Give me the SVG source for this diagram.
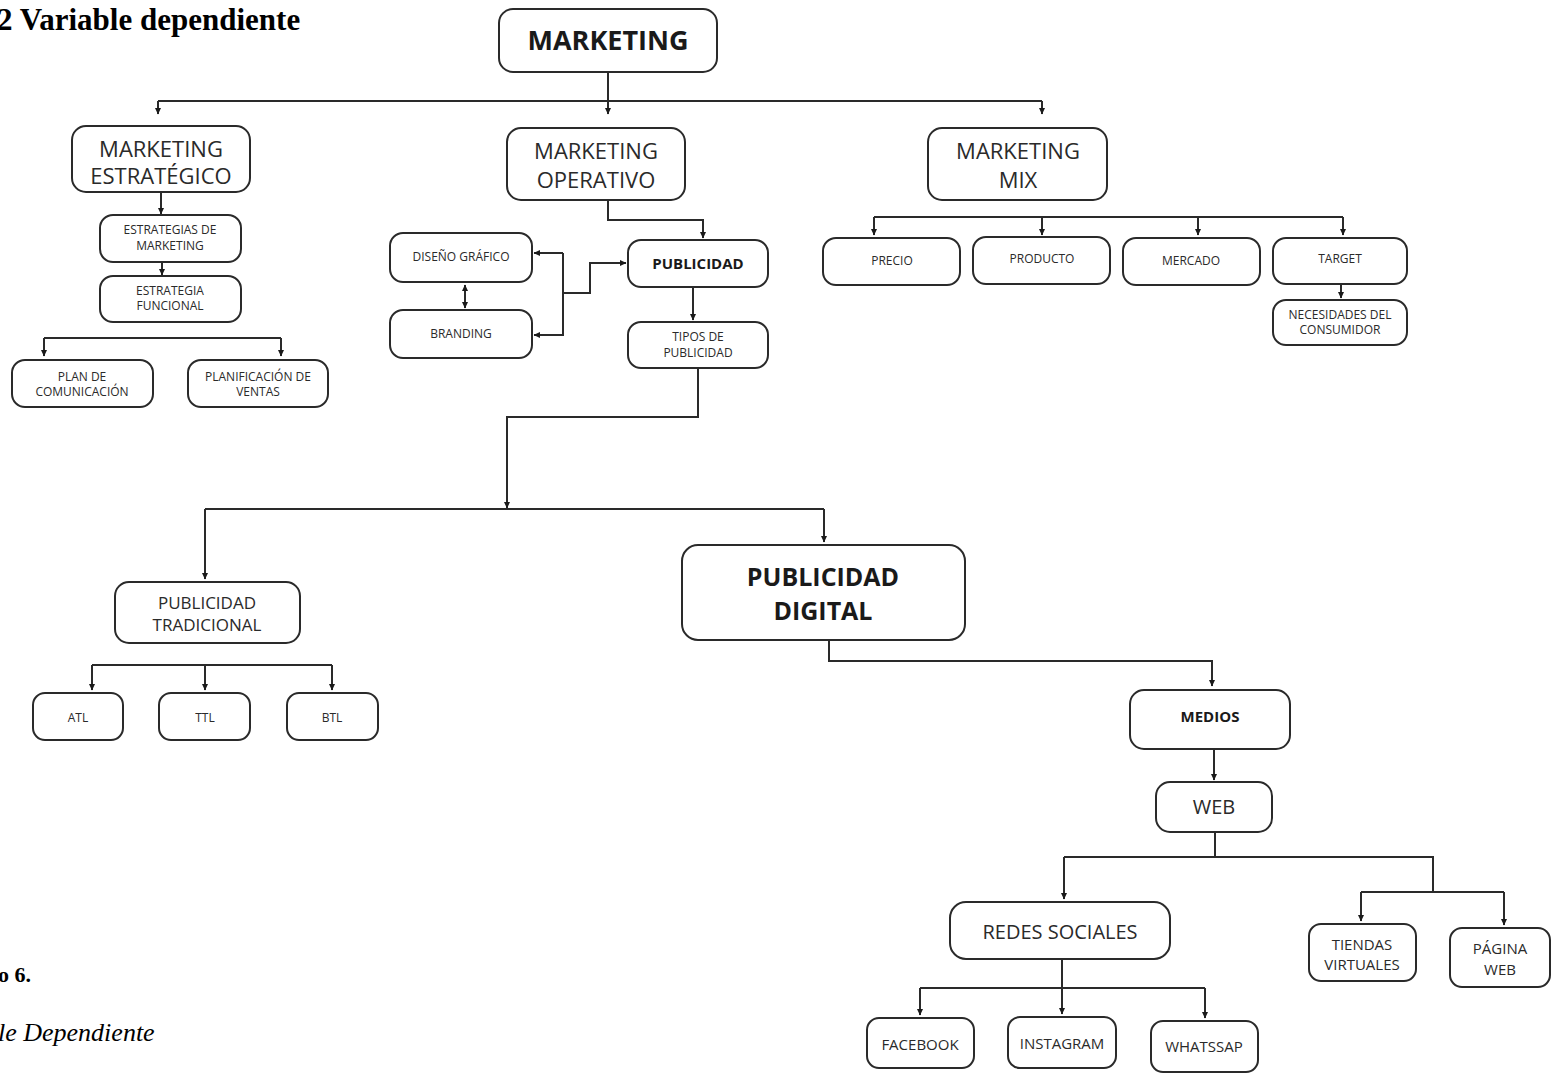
<svg xmlns="http://www.w3.org/2000/svg" width="1554" height="1076" viewBox="0 0 1554 1076">
<defs>
<style>
.box{fill:#fff;stroke:#2a2a2a;stroke-width:2}
.t{font-family:"Open Sans","Noto Sans",sans-serif;fill:#2a2a2a;text-anchor:middle}
.b{font-weight:bold;fill:#1a1a1a}
.s12{font-size:12px}
.s13{font-size:13px}
.s15{font-size:15px}
.s17{font-size:17px}
.s20{font-size:20px}
.s22{font-size:22px}
.c{fill:none;stroke:#2a2a2a;stroke-width:2}
.a{marker-end:url(#ah)}
.serif{font-family:"Liberation Serif","Times New Roman",serif;fill:#000}
</style>
<marker id="ah" viewBox="0 0 8 8" refX="7" refY="4" markerWidth="7" markerHeight="7" markerUnits="userSpaceOnUse" orient="auto-start-reverse">
<path d="M0,0.5 L7.5,4 L0,7.5 z" fill="#1a1a1a"/>
</marker>
</defs>
<rect width="1554" height="1076" fill="#fff"/>

<text class="serif" x="-3" y="30" font-size="31" font-weight="bold">2 Variable dependiente</text>
<text class="serif" x="-2" y="982" font-size="22" font-weight="bold">o 6.</text>
<text class="serif" x="-2" y="1041" font-size="26" font-style="italic">le Dependiente</text>

<g id="connectors">
<path class="c a" d="M608,72 V114"/>
<path class="c" d="M158,101 H1042"/>
<path class="c a" d="M158,101 V114"/>
<path class="c a" d="M1042,101 V114"/>
<path class="c a" d="M161,192 V214"/>
<path class="c a" d="M162,262 V275"/>
<path class="c" d="M44,338 H281"/>
<path class="c a" d="M44,338 V356"/>
<path class="c a" d="M281,338 V356"/>
<path class="c a" d="M608,200 V220 H703 V238"/>
<path class="c a" d="M693,287 V320"/>
<path class="c a" d="M563,293 H590 V263 H626"/>
<path class="c a" d="M563,253 H534"/>
<path class="c a" d="M563,253 V335 H534"/>
<path class="c" d="M465,285 V308" marker-start="url(#ah)" marker-end="url(#ah)"/>
<path class="c a" d="M698,368 V417 H507 V508"/>
<path class="c" d="M205,509 H824"/>
<path class="c a" d="M205,509 V579"/>
<path class="c a" d="M824,509 V542"/>
<path class="c" d="M92,665 H332"/>
<path class="c a" d="M92,665 V690"/>
<path class="c a" d="M205,665 V690"/>
<path class="c a" d="M332,665 V690"/>
<path class="c" d="M874,217 H1343"/>
<path class="c a" d="M874,217 V235"/>
<path class="c a" d="M1042,217 V235"/>
<path class="c a" d="M1198,217 V235"/>
<path class="c a" d="M1343,217 V235"/>
<path class="c a" d="M1341,285 V298"/>
<path class="c a" d="M829,640 V661 H1212 V686"/>
<path class="c a" d="M1214,749 V780"/>
<path class="c" d="M1215,832 V857 M1064,857 H1433 V892 M1361,892 H1504"/>
<path class="c a" d="M1064,857 V899"/>
<path class="c a" d="M1361,892 V921"/>
<path class="c a" d="M1504,892 V925"/>
<path class="c" d="M1062,959 V988 M920,988 H1205"/>
<path class="c a" d="M920,988 V1015"/>
<path class="c a" d="M1062,988 V1014"/>
<path class="c a" d="M1205,988 V1018"/>
</g>

<g id="n-marketing"><rect class="box" x="499" y="9" width="218" height="63" rx="14"/><text class="t b" x="608" y="50" font-size="27">MARKETING</text></g>

<g id="n-estrategico"><rect class="box" x="72" y="126" width="178" height="66" rx="14"/><text class="t s22" x="161" y="157">MARKETING</text><text class="t s22" x="161" y="184">ESTRATÉGICO</text></g>
<g id="n-operativo"><rect class="box" x="507" y="128" width="178" height="72" rx="14"/><text class="t s22" x="596" y="159">MARKETING</text><text class="t s22" x="596" y="188">OPERATIVO</text></g>
<g id="n-mix"><rect class="box" x="928" y="128" width="179" height="72" rx="14"/><text class="t s22" x="1018" y="159">MARKETING</text><text class="t s22" x="1018" y="188">MIX</text></g>

<g id="n-estrategias"><rect class="box" x="100" y="215" width="141" height="47" rx="13"/><text class="t s12" x="170" y="234">ESTRATEGIAS DE</text><text class="t s12" x="170" y="250">MARKETING</text></g>
<g id="n-funcional"><rect class="box" x="100" y="276" width="141" height="46" rx="13"/><text class="t s12" x="170" y="295">ESTRATEGIA</text><text class="t s12" x="170" y="310">FUNCIONAL</text></g>
<g id="n-plan"><rect class="box" x="12" y="360" width="141" height="47" rx="13"/><text class="t s12" x="82" y="381">PLAN DE</text><text class="t s12" x="82" y="396">COMUNICACIÓN</text></g>
<g id="n-ventas"><rect class="box" x="188" y="360" width="140" height="47" rx="13"/><text class="t s12" x="258" y="381">PLANIFICACIÓN DE</text><text class="t s12" x="258" y="396">VENTAS</text></g>

<g id="n-diseno"><rect class="box" x="390" y="233" width="142" height="49" rx="13"/><text class="t s12" x="461" y="261">DISEÑO GRÁFICO</text></g>
<g id="n-branding"><rect class="box" x="390" y="310" width="142" height="48" rx="13"/><text class="t s12" x="461" y="338">BRANDING</text></g>
<g id="n-publicidad"><rect class="box" x="628" y="240" width="140" height="47" rx="13"/><text class="t b s15" x="698" y="269">PUBLICIDAD</text></g>
<g id="n-tipos"><rect class="box" x="628" y="322" width="140" height="46" rx="13"/><text class="t s12" x="698" y="341">TIPOS DE</text><text class="t s12" x="698" y="357">PUBLICIDAD</text></g>

<g id="n-precio"><rect class="box" x="823" y="238" width="137" height="47" rx="13"/><text class="t s12" x="892" y="265">PRECIO</text></g>
<g id="n-producto"><rect class="box" x="973" y="237" width="137" height="47" rx="13"/><text class="t s12" x="1042" y="263">PRODUCTO</text></g>
<g id="n-mercado"><rect class="box" x="1123" y="238" width="137" height="47" rx="13"/><text class="t s12" x="1191" y="265">MERCADO</text></g>
<g id="n-target"><rect class="box" x="1273" y="238" width="134" height="46" rx="13"/><text class="t s12" x="1340" y="263">TARGET</text></g>
<g id="n-necesidades"><rect class="box" x="1273" y="300" width="134" height="45" rx="13"/><text class="t s12" x="1340" y="319">NECESIDADES DEL</text><text class="t s12" x="1340" y="334">CONSUMIDOR</text></g>

<g id="n-tradicional"><rect class="box" x="115" y="582" width="185" height="61" rx="14"/><text class="t s17" x="207" y="609">PUBLICIDAD</text><text class="t s17" x="207" y="631">TRADICIONAL</text></g>
<g id="n-atl"><rect class="box" x="33" y="693" width="90" height="47" rx="12"/><text class="t s12" x="78" y="722">ATL</text></g>
<g id="n-ttl"><rect class="box" x="159" y="693" width="91" height="47" rx="12"/><text class="t s12" x="205" y="722">TTL</text></g>
<g id="n-btl"><rect class="box" x="287" y="693" width="91" height="47" rx="12"/><text class="t s12" x="332" y="722">BTL</text></g>

<g id="n-digital"><rect class="box" x="682" y="545" width="283" height="95" rx="16"/><text class="t b" x="823" y="586" font-size="25">PUBLICIDAD</text><text class="t b" x="823" y="620" font-size="25">DIGITAL</text></g>
<g id="n-medios"><rect class="box" x="1130" y="690" width="160" height="59" rx="14"/><text class="t b s15" x="1210" y="722">MEDIOS</text></g>
<g id="n-web"><rect class="box" x="1156" y="782" width="116" height="50" rx="14"/><text class="t s20" x="1214" y="814">WEB</text></g>
<g id="n-redes"><rect class="box" x="950" y="902" width="220" height="57" rx="16"/><text class="t s20" x="1060" y="939">REDES SOCIALES</text></g>
<g id="n-tiendas"><rect class="box" x="1309" y="924" width="107" height="57" rx="12"/><text class="t s15" x="1362" y="950">TIENDAS</text><text class="t s15" x="1362" y="970">VIRTUALES</text></g>
<g id="n-pagina"><rect class="box" x="1450" y="928" width="100" height="59" rx="12"/><text class="t s15" x="1500" y="954">PÁGINA</text><text class="t s15" x="1500" y="975">WEB</text></g>
<g id="n-facebook"><rect class="box" x="867" y="1018" width="107" height="50" rx="12"/><text class="t s15" x="920" y="1050">FACEBOOK</text></g>
<g id="n-instagram"><rect class="box" x="1008" y="1017" width="108" height="51" rx="12"/><text class="t s15" x="1062" y="1049">INSTAGRAM</text></g>
<g id="n-whatssap"><rect class="box" x="1151" y="1021" width="107" height="51" rx="12"/><text class="t s15" x="1204" y="1052">WHATSSAP</text></g>
</svg>
